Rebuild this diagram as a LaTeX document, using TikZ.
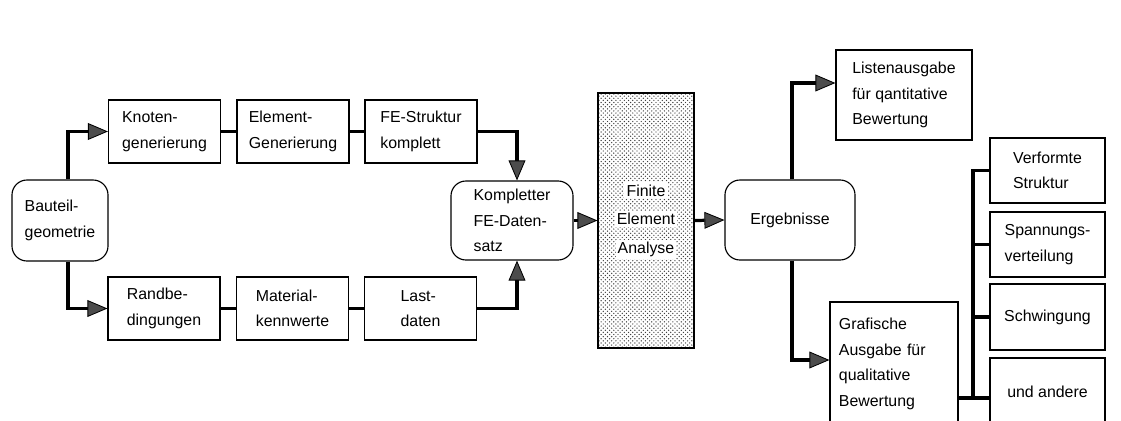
\documentclass[tikz,border=0pt]{standalone}
\usepackage{fontspec}
\setmainfont{Liberation Sans}
\usetikzlibrary{arrows.meta}
\usetikzlibrary{patterns}
\newcommand{\clearbg}[1]{{\setlength{\fboxsep}{1.5pt}\colorbox{white}{#1}}}

\begin{document}
\begin{tikzpicture}[x=0.025cm, y=-0.025cm,
 every node/.style={font=\fontsize{11.3}{18.1}\selectfont, align=left, inner sep=0pt},
 box/.style={draw, line width=0.8pt, minimum width=2.8cm, minimum height=1.575cm},
 rbox/.style={box, rounded corners=0.375cm},
 link/.style={line width=2.3pt},
 arr/.style={link, -{Triangle[length=0.5cm, width=0.42cm, fill=black!70, line width=0.6pt]}}]
\useasboundingbox (0,0) rectangle (1121,421);

\node[rbox, minimum width=2.4cm, minimum height=2.025cm] (bauteil) at (60,220.5) {Bauteil-\\geometrie};

\node[box] (knoten)   at (164.5,131.5) {Knoten-\\generierung};
\node[box] (element)  at (293,131.5)   {Element-\\Generierung};
\node[box] (festr)    at (421,131.5)   {FE-Struktur\\komplett};
\node[box] (rand)     at (164,308.5)   {Randbe-\\dingungen};
\node[box] (material) at (292.5,308.5) {Material-\\kennwerte};
\node[box] (last)     at (420.5,308.5) {Last-\\daten};

\node[rbox, minimum width=3.05cm, minimum height=1.975cm] (kompl) at (512,220.5) {Kompletter\\FE-Daten-\\satz};

\node[draw, line width=0.8pt, pattern=crosshatch dots, pattern color=black!75,
 minimum width=2.4cm, minimum height=6.375cm, align=center,
 font=\fontsize{11.3}{20.3}\selectfont] (fea) at (646,220.5) {\clearbg{Finite}\\\clearbg{Element}\\\clearbg{Analyse}};

\node[rbox, minimum width=3.25cm, minimum height=2cm] (erg) at (790,220) {Ergebnisse};

\node[box, minimum width=3.4cm, minimum height=2.25cm] (listen) at (904,95) {Listenausgabe\\für qantitative\\Bewertung};
\node[box, minimum width=3.2cm, minimum height=3.1cm, text width=2.75cm] (grafik) at (894,364) {Grafische\\Ausgabe für\\qualitative\\Bewertung};

\node[box, minimum width=2.875cm, minimum height=1.625cm] (verf)   at (1047.5,170.5) {Verformte\\Struktur};
\node[box, minimum width=2.875cm, minimum height=1.625cm] (spann)  at (1047.5,244.5) {Spannungs-\\verteilung};
\node[box, minimum width=2.875cm, minimum height=1.65cm]  (schw)   at (1047.5,317)   {Schwingung};
\node[box, minimum width=2.875cm, minimum height=1.7cm]   (andere) at (1047.5,392)   {und andere};

\draw[arr] ([xshift=0.2cm]bauteil.north) |- (knoten.west);
\draw[arr] ([xshift=0.2cm]bauteil.south) |- (rand.west);
\foreach \a/\b in {knoten/element, element/festr, rand/material, material/last}
 \draw[link] (\a) -- (\b);
\draw[arr] (festr.east) -| ([xshift=0.125cm]kompl.north);
\draw[arr] (last.east) -| ([xshift=0.125cm]kompl.south);
\draw[arr] (kompl.east) -- (fea.west);
\draw[arr] (fea.east) -- (erg.west);
\draw[arr] ([xshift=0.05cm]erg.north) |- ([yshift=0.3cm]listen.west);
\draw[arr] ([xshift=0.05cm]erg.south) |- ([yshift=0.1cm]grafik.west);

\coordinate (bus) at (973,398);
\draw[link] (grafik.east |- bus) -- (andere.west |- bus);
\draw[link] (bus) |- (verf.west);
\foreach \n in {spann, schw}
 \draw[link] (bus |- \n.west) -- (\n.west);
\end{tikzpicture}
\end{document}
